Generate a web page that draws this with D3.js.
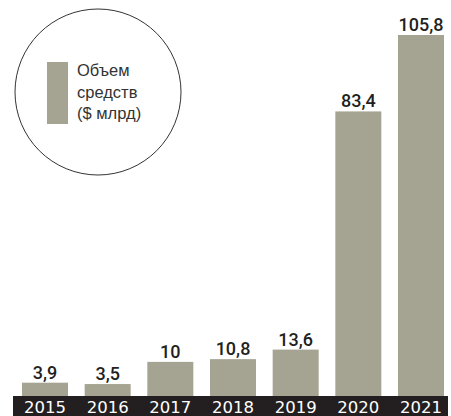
<!DOCTYPE html>
<html>
<head>
<meta charset="utf-8">
<script src="https://cdn.jsdelivr.net/npm/d3@7"></script>
<style>
  body { margin: 0; background: #fff; }
</style>
</head>
<body>
<div id="root"></div>
<script>
// data
const years = ['2015', '2016', '2017', '2018', '2019', '2020', '2021'];
const values = [3.9, 3.5, 10, 10.8, 13.6, 83.4, 105.8];
const valueLabels = ['3,9', '3,5', '10', '10,8', '13,6', '83,4', '105,8'];
const legendLines = ['Объем', 'средств', '($ млрд)'];

const w = 451;
const h = 416;
const barColor = '#a5a391';
const baseY = 396;

const svg = d3.select('#root')
    .append('svg')
    .attr('width', w)
    .attr('height', h);

// x scale
const x = d3.scaleBand()
    .domain(years)
    .range([22, 444])
    .paddingInner(0.266)
    .paddingOuter(0);

// y scale
const y = d3.scaleLinear()
    .domain([0, 105.8])
    .range([baseY, 35]);

// dark band under the bars
svg.append('rect')
    .attr('x', 13)
    .attr('y', baseY)
    .attr('width', 448 - 13)
    .attr('height', h - baseY)
    .attr('fill', '#231f20');

// bars
svg.selectAll('rect.bar')
    .data(values)
    .enter()
    .append('rect')
    .attr('class', 'bar')
    .attr('x', (d, i) => x(years[i]))
    .attr('y', d => y(d))
    .attr('width', x.bandwidth())
    .attr('height', d => baseY - y(d))
    .attr('fill', barColor);

// value labels
svg.selectAll('text.val')
    .data(values)
    .enter()
    .append('text')
    .attr('class', 'val')
    .attr('x', (d, i) => x(years[i]) + x.bandwidth() / 2)
    .attr('y', d => y(d) - 4)
    .attr('text-anchor', 'middle')
    .attr('font-family', 'Roboto, sans-serif')
    .attr('font-weight', 500)
    .attr('font-size', 18)
    .attr('fill', '#231f20')
    .text((d, i) => valueLabels[i]);

// x axis (year labels on the dark band)
const xAxis = d3.axisBottom(x).tickSize(0).tickPadding(0);
const gx = svg.append('g')
    .attr('transform', `translate(0,${baseY})`)
    .call(xAxis);
gx.select('.domain').remove();
gx.selectAll('text')
    .attr('y', 17)
    .attr('dy', 0)
    .attr('font-family', 'DejaVu Sans, sans-serif')
    .attr('font-size', 16.5)
    .attr('fill', '#fff');

// legend circle
svg.append('circle')
    .attr('cx', 98)
    .attr('cy', 92)
    .attr('r', 83)
    .attr('fill', 'none')
    .attr('stroke', '#333')
    .attr('stroke-width', 1);

svg.append('rect')
    .attr('x', 47)
    .attr('y', 62)
    .attr('width', 21)
    .attr('height', 62)
    .attr('fill', barColor);

svg.selectAll('text.leg')
    .data(legendLines)
    .enter()
    .append('text')
    .attr('class', 'leg')
    .attr('x', 77)
    .attr('y', (d, i) => 76 + i * 21.5)
    .attr('font-family', 'Liberation Sans, Arial, sans-serif')
    .attr('font-size', 16.5)
    .attr('fill', '#333')
    .text(d => d);
</script>
</body>
</html>
